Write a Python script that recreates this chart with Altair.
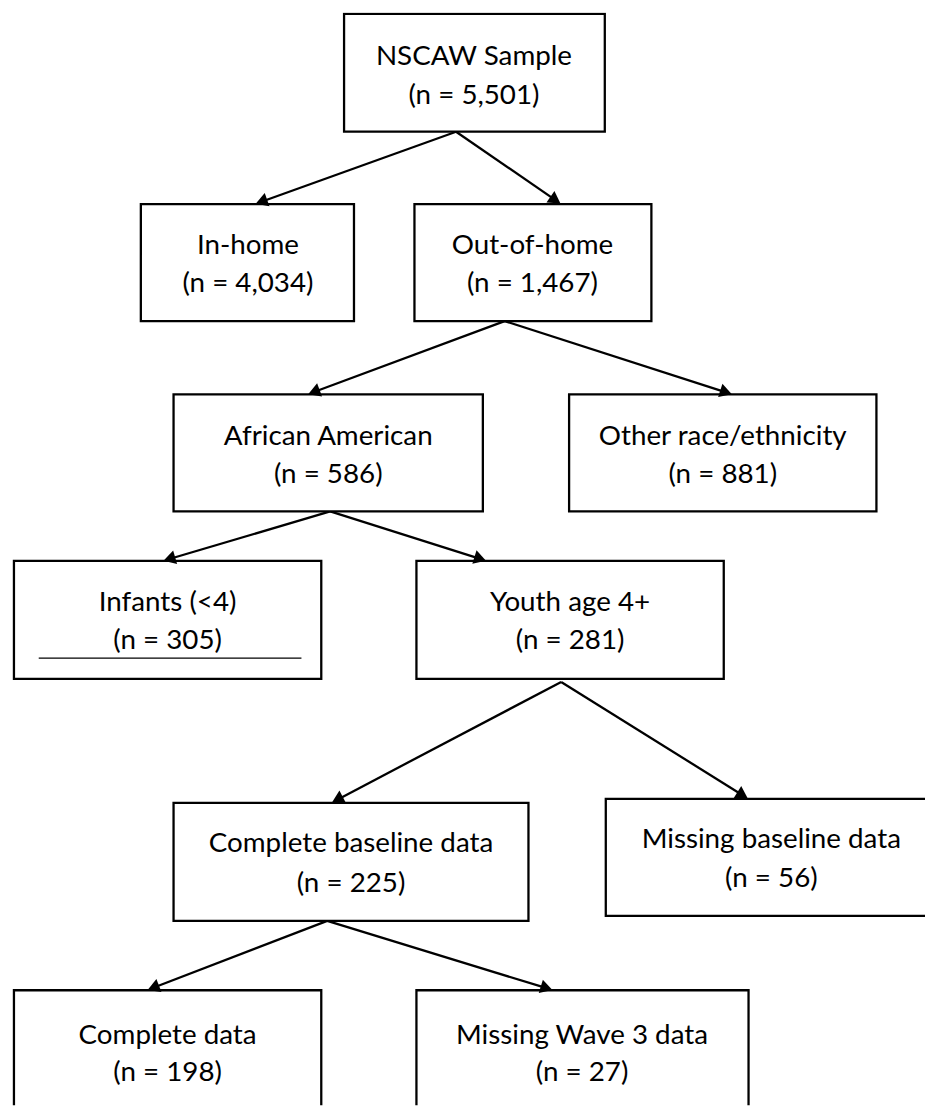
import altair as alt
import pandas as pd
import numpy as np

# Flowchart content
titles = ["NSCAW Sample", "In-home", "Out-of-home", "African American",
          "Other race/ethnicity", "Infants (<4)", "Youth age 4+",
          "Complete baseline data", "Missing baseline data",
          "Complete data", "Missing Wave 3 data"]
counts = ["5,501", "4,034", "1,467", "586", "881", "305", "281",
          "225", "56", "198", "27"]

# Box layout (page pixel coordinates)
box_left = [347, 142, 418, 175, 574, 14, 420, 175, 611, 14, 420]
box_right = [610, 357, 657, 487, 884, 324, 730, 533, 950, 324, 755]
box_top = [9, 201, 201, 393, 393, 561, 561, 805, 801, 994, 994]
box_bottom = [128, 319, 319, 511, 511, 680, 680, 924, 919, 1130, 1130]
text_x = [478, 250, 537, 331, 729, 169, 575, 354, 778, 169, 587]
line1_y = [53, 243, 243, 436, 436, 603, 603, 847, 843, 1040, 1040]
line2_y = [92, 282, 282, 474, 474, 642, 642, 887, 882, 1078, 1078]

# Arrows (start -> tip)
arrow_x0 = [460, 460, 509, 509, 333, 333, 566, 566, 330, 330]
arrow_y0 = [128, 128, 319, 319, 511, 511, 683, 683, 924, 924]
arrow_x1 = [257, 566, 310, 739, 164, 491, 334, 755, 148, 558]
arrow_y1 = [201, 201, 393, 393, 561, 561, 805, 801, 994, 994]

# Underline inside the "Infants" box
underline_x = [39, 304]
underline_y = [659, 659]

W, H = 925, 1102
xs = alt.Scale(domain=[8, 8 + W], nice=False, zero=False)
ys = alt.Scale(domain=[8, 8 + H], nice=False, zero=False, reverse=True)
FONT = "Lato"
FS = 28

boxes = pd.DataFrame({"x0": box_left, "x1": box_right, "y0": box_top, "y1": box_bottom})
texts = pd.DataFrame({
    "cx": text_x * 2,
    "cy": line1_y + line2_y,
    "label": titles + [f"(n = {c})" for c in counts],
})

ax0 = np.array(arrow_x0, float); ay0 = np.array(arrow_y0, float)
ax1 = np.array(arrow_x1, float); ay1 = np.array(arrow_y1, float)
dx = ax1 - ax0; dy = ay1 - ay0
L = np.hypot(dx, dy)
ux, uy = dx / L, dy / L
head = 7.0
arrows = pd.DataFrame({
    "x0": ax0, "y0": ay0, "x1": ax1 - ux * head, "y1": ay1 - uy * head,
    "hx": ax1 - ux * head, "hy": ay1 - uy * head,
    "ang": np.mod(np.degrees(np.arctan2(dx, -dy)), 360),
})
under = pd.DataFrame({"x0": [underline_x[0]], "x1": [underline_x[1]],
                      "y0": [underline_y[0]], "y1": [underline_y[1]]})

rect_layer = alt.Chart(boxes).mark_rect(
    fill="white", stroke="black", strokeWidth=2.3, clip=True
).encode(
    x=alt.X("x0:Q", scale=xs, axis=None), x2="x1:Q",
    y=alt.Y("y0:Q", scale=ys, axis=None), y2="y1:Q",
)

line_layer = alt.Chart(arrows).mark_rule(color="black", strokeWidth=2.3).encode(
    x=alt.X("x0:Q", scale=xs, axis=None), x2="x1:Q",
    y=alt.Y("y0:Q", scale=ys, axis=None), y2="y1:Q",
)

head_layer = alt.Chart(arrows).mark_point(
    shape="triangle-up", filled=True, color="black", size=200, opacity=1
).encode(
    x=alt.X("hx:Q", scale=xs, axis=None),
    y=alt.Y("hy:Q", scale=ys, axis=None),
    angle=alt.Angle("ang:Q", scale=None),
)

under_layer = alt.Chart(under).mark_rule(color="black", strokeWidth=1.2).encode(
    x=alt.X("x0:Q", scale=xs, axis=None), x2="x1:Q",
    y=alt.Y("y0:Q", scale=ys, axis=None), y2="y1:Q",
)

text_layer = alt.Chart(texts).mark_text(
    font=FONT, fontSize=FS, color="black", align="center", baseline="middle"
).encode(
    x=alt.X("cx:Q", scale=xs, axis=None),
    y=alt.Y("cy:Q", scale=ys, axis=None),
    text="label:N",
)

chart = alt.layer(line_layer, rect_layer, head_layer, under_layer, text_layer).properties(
    width=W, height=H, padding=0, background="white",
    autosize=alt.AutoSizeParams(type="none")
).configure_view(stroke=None)

chart.save("out.html", embed_options={"renderer": "svg", "actions": False})
